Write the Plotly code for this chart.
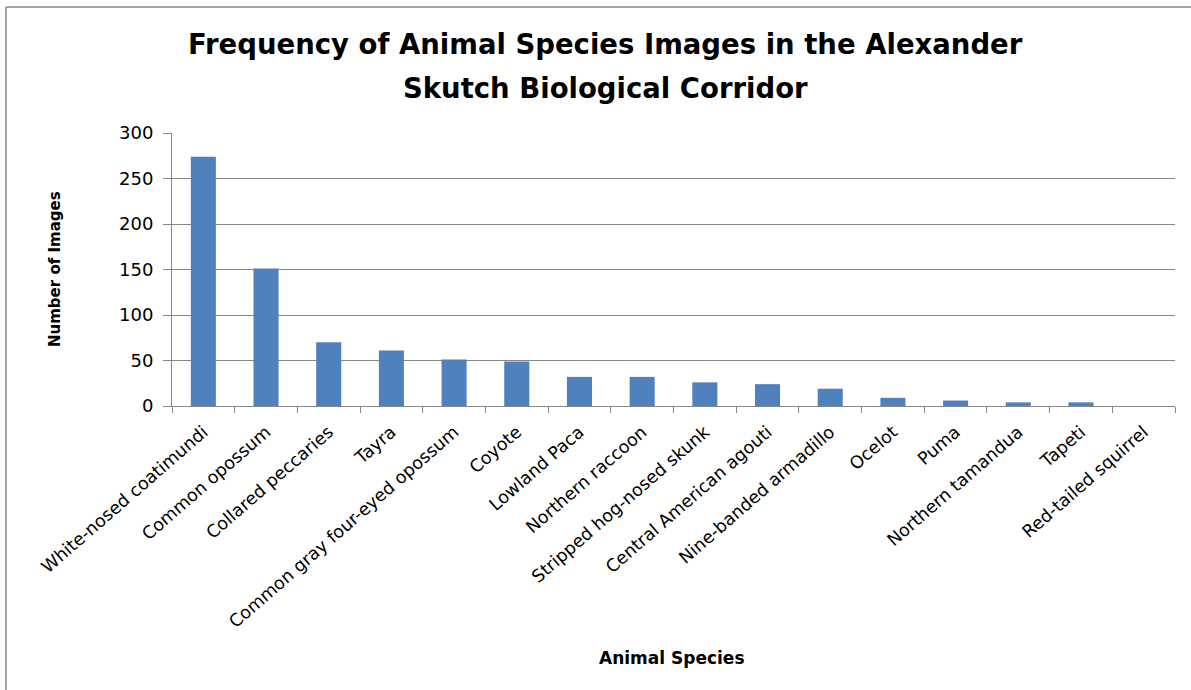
import plotly.graph_objects as go

species = [
    "White-nosed coatimundi", "Common opossum", "Collared peccaries", "Tayra",
    "Common gray four-eyed opossum", "Coyote", "Lowland Paca", "Northern raccoon",
    "Stripped hog-nosed skunk", "Central American agouti", "Nine-banded armadillo",
    "Ocelot", "Puma", "Northern tamandua", "Tapeti", "Red-tailed squirrel",
]
images = [274, 151, 70, 61, 51, 49, 32, 32, 26, 24, 19, 9, 6, 4, 4, 0]
y_ticks = [0, 50, 100, 150, 200, 250, 300]

W, H = 1191, 690
L, R, T, B = 172, 16, 133, 284
pw, ph = W - L - R, H - T - B


def px_x(x):
    return (x - L) / pw


def px_y(y):
    return (H - B - y) / ph


fig = go.Figure(go.Bar(x=species, y=images, marker=dict(color="#4F81BD", line=dict(width=0))))

fig.update_layout(
    width=W, height=H,
    margin=dict(l=L, r=R, t=T, b=B),
    paper_bgcolor="white", plot_bgcolor="white",
    bargap=0.6, showlegend=False,
    font=dict(family="DejaVu Sans", size=16, color="#000000"),
)
fig.update_yaxes(
    range=[0, 300], tickvals=y_ticks, showgrid=True, gridcolor="#878787", gridwidth=1,
    showline=True, linecolor="#878787", linewidth=1, ticks="outside", ticklen=8,
    tickcolor="#878787", zeroline=False, ticklabelstandoff=6,
    tickfont=dict(family="DejaVu Sans", size=18),
)
fig.update_xaxes(
    tickangle=-41, showline=True, linecolor="#878787", linewidth=1, ticks="outside",
    ticklen=6, tickcolor="#878787", tickson="boundaries", ticklabelstandoff=8,
    tickfont=dict(family="DejaVu Sans", size=17.5),
)

# chart title, two lines
title_font = dict(family="DejaVu Sans", size=27.5, color="#000000")
for txt, yc in [("Frequency of Animal Species Images in the Alexander", 44),
                ("Skutch Biological Corridor", 88)]:
    fig.add_annotation(
        text=f"<b>{txt}</b>", xref="paper", yref="paper", x=px_x(605), y=px_y(yc),
        xanchor="center", yanchor="middle", showarrow=False, font=title_font,
    )

fig.add_annotation(
    text="<b>Number of Images</b>", textangle=-90,
    xref="paper", yref="paper", x=px_x(55), y=px_y(269), xanchor="center", yanchor="middle",
    showarrow=False, font=dict(family="DejaVu Sans", size=15, color="#000000"),
)
fig.add_annotation(
    text="<b>Animal Species</b>",
    xref="paper", yref="paper", x=px_x(672), y=px_y(658), xanchor="center", yanchor="middle",
    showarrow=False, font=dict(family="DejaVu Sans", size=17, color="#000000"),
)

# chart frame (top and left edges)
frame = dict(color="#878787", width=1.5)
fig.add_shape(type="line", xref="paper", yref="paper",
              x0=px_x(6), y0=px_y(7), x1=px_x(W), y1=px_y(7), line=frame)
fig.add_shape(type="line", xref="paper", yref="paper",
              x0=px_x(6), y0=px_y(7), x1=px_x(6), y1=px_y(H), line=frame)

fig.write_html("out.html")
